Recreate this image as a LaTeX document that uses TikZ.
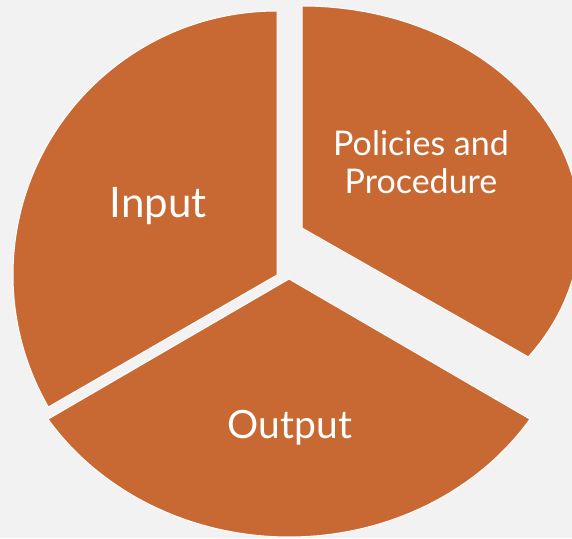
\documentclass[tikz,border=0pt]{standalone}
\usepackage{fontspec}
\setmainfont{Lato}
\definecolor{piebg}{RGB}{242,242,242}
\definecolor{pieorange}{RGB}{200,104,50}
\tikzset{
  slice/.style={fill=pieorange, draw=white, line width=1pt, line join=miter},
  slicetext/.style={text=white, inner sep=0pt, align=center}
}
\begin{document}
\begin{tikzpicture}[x=1pt,y=1pt]
\useasboundingbox (0,0) rectangle (572,538);
\fill[piebg] (0,0) rectangle (572,538);
\coordinate (inC) at (277,263);
\coordinate (polC) at (302,310);
\coordinate (outC) at (289,259);
\draw[slice] (inC) -- ++(0,264) arc[start angle=90, end angle=210, radius=264] -- cycle;
\draw[slice] (polC) -- ++(0,222) arc[start angle=90, end angle=-35.5, x radius=278, y radius=222] -- cycle;
\draw[slice] (outC) -- ++(-147.1:287 and 258) arc[start angle=-147.1, end angle=-32.9, x radius=287, y radius=258] -- cycle;
\node[slicetext, anchor=base, font=\fontsize{42}{50}\selectfont] (input) at (158,320) {Input};
\node[slicetext, font=\fontsize{34}{38}\selectfont] (policies) at (421,376) {Policies and\\Procedure};
\node[slicetext, anchor=base, font=\fontsize{39}{46}\selectfont] (output) at (290,100) {Output};
\end{tikzpicture}
\end{document}
